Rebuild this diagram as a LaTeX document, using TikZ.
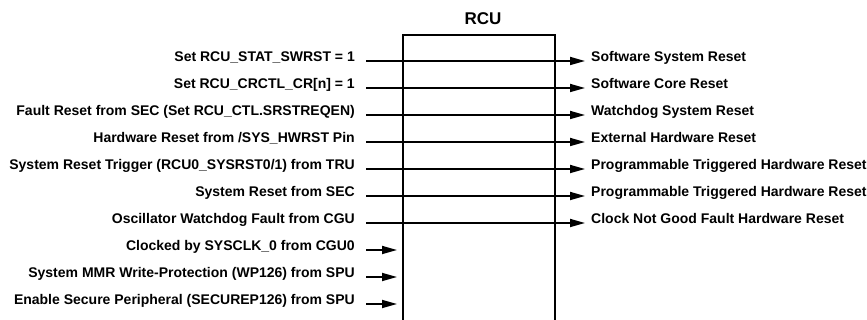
\documentclass[tikz,border=0pt]{standalone}
\usepackage{fontspec}
\setmainfont{Liberation Sans}
\usetikzlibrary{arrows.meta}
\begin{document}
\begin{tikzpicture}[x=1pt,y=-1pt,
  lbl/.style={inner sep=0pt,font=\bfseries\fontsize{14}{16}\selectfont},
  sig/.style={line width=1.7pt,-{Triangle[length=15pt,width=8pt]}}]
\useasboundingbox (0,0) rectangle (867,320);
\clip (0,0) rectangle (867,320);
\node[draw,line width=1.7pt,minimum width=152pt,minimum height=300pt,anchor=north west,inner sep=0pt] (rcu) at (402,34) {};
\node[lbl,anchor=base,font=\bfseries\fontsize{17}{19}\selectfont] (title) at (483,25) {RCU};
% inputs
\foreach \i/\y/\t in {1/61/{Set RCU\_STAT\_SWRST = 1},2/88/{Set RCU\_CRCTL\_CR[n] = 1},3/115/{Fault Reset from SEC (Set RCU\_CTL.SRSTREQEN)},4/142/{Hardware Reset from /SYS\_HWRST Pin},5/169/{System Reset Trigger (RCU0\_SYSRST0/1) from TRU},6/196/{System Reset from SEC},7/223/{Oscillator Watchdog Fault from CGU},8/250/{Clocked by SYSCLK\_0 from CGU0},9/277/{System MMR Write-Protection (WP126) from SPU},10/304/{Enable Secure Peripheral (SECUREP126) from SPU}}{
  \node[lbl,anchor=base east] (in\i) at (355,\y+1) {\t};
  \coordinate (s\i) at (366,\y);
}
\foreach \i/\y/\t in {1/61/{Software System Reset},2/88/{Software Core Reset},3/115/{Watchdog System Reset},4/142/{External Hardware Reset},5/169/{Programmable Triggered Hardware Reset},6/196/{Programmable Triggered Hardware Reset},7/223/{Clock Not Good Fault Hardware Reset}}{
  \node[lbl,anchor=base west] (out\i) at (591,\y+1) {\t};
  \coordinate (e\i) at (585,\y);
  \draw[sig] (s\i) -- (e\i);
}
\foreach \i/\y in {8/250,9/277,10/304}{
  \coordinate (e\i) at (397,\y);
  \draw[sig] (s\i) -- (e\i);
}
\end{tikzpicture}
\end{document}
